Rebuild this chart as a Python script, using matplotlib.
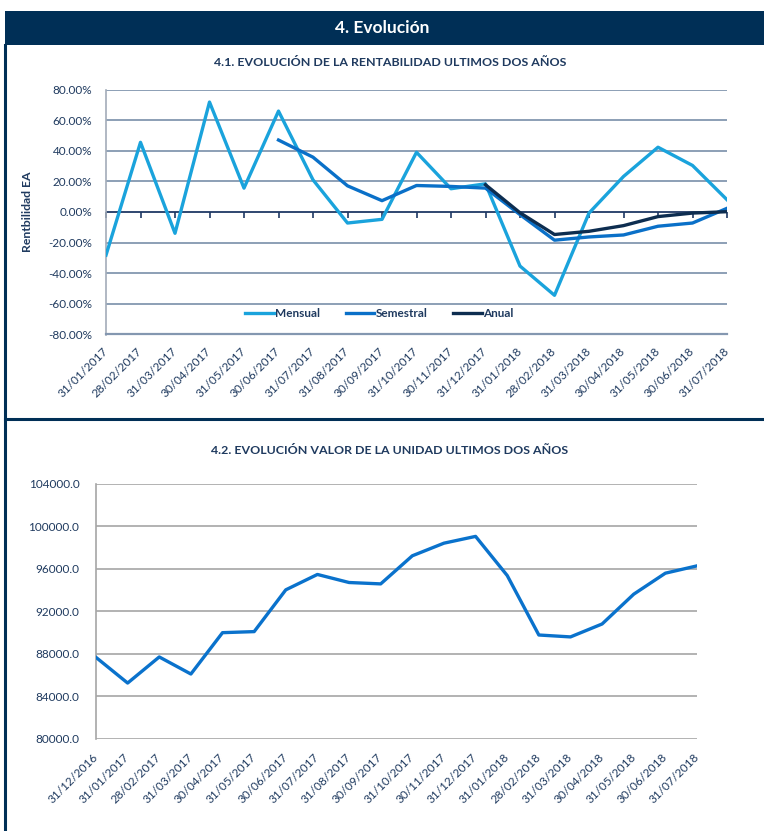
import matplotlib
matplotlib.use("Agg")
import matplotlib.pyplot as plt
from matplotlib.patches import Rectangle
from matplotlib.lines import Line2D
from matplotlib.ticker import FuncFormatter
import matplotlib.transforms as mtransforms
import numpy as np

plt.rcParams['font.family'] = ['Lato', 'DejaVu Sans']

# ---------------- data ----------------
dates_rent = ["31/01/2017", "28/02/2017", "31/03/2017", "30/04/2017", "31/05/2017",
              "30/06/2017", "31/07/2017", "31/08/2017", "30/09/2017", "31/10/2017",
              "30/11/2017", "31/12/2017", "31/01/2018", "28/02/2018", "31/03/2018",
              "30/04/2018", "31/05/2018", "30/06/2018", "31/07/2018"]
mensual = [-28.2, 45.5, -13.9, 71.8, 15.6, 65.9, 21.0, -7.2, -4.8, 39.0,
           15.2, 18.4, -35.3, -54.4, -0.7, 23.2, 42.3, 30.4, 8.0]
semestral = [None, None, None, None, None, 47.0, 35.8, 17.1, 7.4, 17.3,
             16.7, 15.6, -1.7, -18.4, -16.3, -15.0, -9.3, -7.2, 2.4]
anual = [None] * 11 + [17.8, -0.5, -14.7, -12.6, -8.9, -3.0, -0.7, 0.2]

dates_unit = ["31/12/2016"] + dates_rent
valor_unidad = [87650, 85230, 87690, 86080, 89980, 90080, 94020, 95470, 94710, 94580,
                97230, 98420, 99060, 95370, 89760, 89580, 90800, 93610, 95590, 96280]

rent_ticks = [-80, -60, -40, -20, 0, 20, 40, 60, 80]
unit_ticks = [80000, 84000, 88000, 92000, 96000, 100000, 104000]

# ---------------- styles ----------------
NAVY = '#002f56'
TXT = '#1f3a5f'
C_MENS = '#1aa3dc'
C_SEM = '#0a70c8'
C_ANU = '#0d2d50'
C_UNIT = '#0a72cc'

W, H = 764, 831
fig = plt.figure(figsize=(W / 100, H / 100), dpi=100)

def fx(px):
    return px / W

def fy(py):
    return 1 - py / H

# header band and frame
fig.patches.append(Rectangle((fx(5), fy(45)), fx(764) - fx(5), fy(11) - fy(45),
                             transform=fig.transFigure, facecolor=NAVY, edgecolor='none', zorder=0))
fig.text(fx(382), fy(28), "4. Evolución", color='white', fontsize=12.5, fontweight='bold',
         ha='center', va='center')
fig.lines.append(Line2D([fx(5), fx(5)], [fy(45), fy(831)], transform=fig.transFigure,
                        color=NAVY, lw=2.2))
fig.lines.append(Line2D([fx(5), fx(764)], [fy(419), fy(419)], transform=fig.transFigure,
                        color=NAVY, lw=2.2))

fig.text(fx(390), fy(62), "4.1. EVOLUCIÓN DE LA RENTABILIDAD ULTIMOS DOS AÑOS", color=TXT,
         fontsize=8.9, fontweight='bold', ha='center', va='center')
fig.text(fx(390), fy(451), "4.2. EVOLUCIÓN VALOR DE LA UNIDAD ULTIMOS DOS AÑOS", color=TXT,
         fontsize=8.9, fontweight='bold', ha='center', va='center')

# ---------------- chart 1 ----------------
ax1 = fig.add_axes([fx(106), fy(334.5), fx(727) - fx(106), fy(89.5) - fy(334.5)])
x1 = np.arange(len(dates_rent))

def to_arr(v):
    return np.array([np.nan if a is None else a for a in v], dtype=float)

for y in rent_ticks:
    if y == 0:
        continue
    ax1.axhline(y, color='#8497b0', lw=1.3, zorder=1)
ax1.axhline(0, color='#1f3864', lw=1.3, zorder=1.5)

ax1.plot(x1, to_arr(mensual), color=C_MENS, lw=2.4, label='Mensual', zorder=3)
ax1.plot(x1, to_arr(semestral), color=C_SEM, lw=2.4, label='Semestral', zorder=4)
ax1.plot(x1, to_arr(anual), color=C_ANU, lw=2.4, label='Anual', zorder=5)

ax1.set_xlim(0, len(dates_rent) - 1)
ax1.set_ylim(-80, 80)
ax1.set_yticks(rent_ticks)
ax1.yaxis.set_major_formatter(FuncFormatter(lambda v, p: f"{v:.2f}%"))
ax1.set_xticks(x1)
ax1.set_xticklabels(dates_rent, rotation=45, ha='right', va='center', rotation_mode='anchor')
ax1.tick_params(axis='x', length=0, pad=11, labelsize=8.5, labelcolor=TXT)
ax1.tick_params(axis='y', length=0, pad=10, labelsize=8.5, labelcolor=TXT)
for s in ['top', 'right']:
    ax1.spines[s].set_visible(False)
ax1.spines['left'].set_color('#a3acb9')
ax1.spines['left'].set_linewidth(1.2)
ax1.spines['bottom'].set_color('#8497b0')
ax1.spines['bottom'].set_linewidth(1.6)

sec = ax1.secondary_xaxis(0.5)
sec.set_xticks(x1)
sec.set_xticklabels([])
sec.tick_params(axis='x', direction='in', length=4, width=1.2, color='#1f3864')
sec.spines['bottom'].set_visible(False)
sec.spines['top'].set_visible(False)

ax1.set_ylabel("Rentbilidad EA", color=TXT, fontsize=8.8, fontweight='bold')
ax1.yaxis.label.set_transform(mtransforms.blended_transform_factory(fig.transFigure, ax1.transAxes))
ax1.yaxis.label.set_position((fx(33), 0.5))
ax1.yaxis.set_label_coords(fx(33), 0.5,
                           transform=mtransforms.blended_transform_factory(fig.transFigure, ax1.transAxes))

leg = ax1.legend(loc='center', bbox_to_anchor=(0.44, 0.085), ncol=3, frameon=False,
                 fontsize=8.5, handlelength=2.4, columnspacing=2.2, handletextpad=0.1)
for t in leg.get_texts():
    t.set_color(TXT)
    t.set_fontweight('bold')

# ---------------- chart 2 ----------------
ax2 = fig.add_axes([fx(96), fy(738.5), fx(697) - fx(96), fy(484) - fy(738.5)])
x2 = np.arange(len(dates_unit))
for y in unit_ticks:
    ax2.axhline(y, color='#a6a6a6', lw=1.2, zorder=1)
ax2.plot(x2, valor_unidad, color=C_UNIT, lw=2.4, zorder=3)
ax2.set_xlim(0, len(dates_unit) - 1)
ax2.set_ylim(80000, 104000)
ax2.set_yticks(unit_ticks)
ax2.yaxis.set_major_formatter(FuncFormatter(lambda v, p: f"{v:.1f}"))
ax2.set_xticks(x2)
ax2.set_xticklabels(dates_unit, rotation=45, ha='right', va='center', rotation_mode='anchor')
ax2.tick_params(axis='x', length=0, pad=12, labelsize=8.5, labelcolor=TXT)
ax2.tick_params(axis='y', length=0, pad=12, labelsize=8.5, labelcolor=TXT)
for s in ['top', 'right', 'bottom']:
    ax2.spines[s].set_visible(False)
ax2.spines['left'].set_color('#a6a6a6')
ax2.spines['left'].set_linewidth(1.2)

fig.savefig("out.png", dpi=100)
